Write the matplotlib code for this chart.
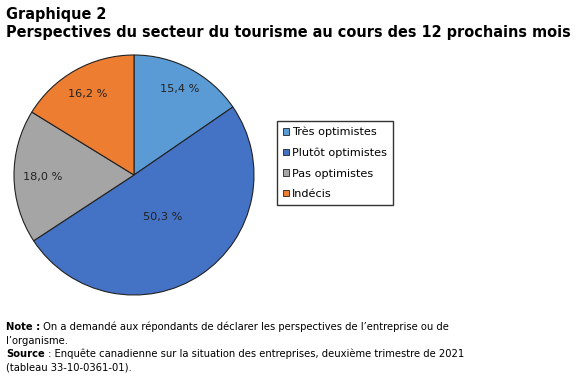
import matplotlib
matplotlib.use("Agg")
import matplotlib.pyplot as plt
import numpy as np
from matplotlib.patches import Patch

categories = ["Très optimistes", "Plutôt optimistes", "Pas optimistes", "Indécis"]
values = [15.4, 50.3, 18.0, 16.2]
value_labels = ["15,4 %", "50,3 %", "18,0 %", "16,2 %"]
colors = ["#5B9BD5", "#4472C4", "#A5A5A5", "#ED7D31"]
label_radius = [0.81, 0.42, 0.76, 0.78]

W, H = 584, 378
fig = plt.figure(figsize=(W / 100, H / 100), dpi=100)

cx, cy, r = 134, 175, 120
ax = fig.add_axes([(cx - r) / W, (H - cy - r) / H, 2 * r / W, 2 * r / H])
wedges, _ = ax.pie(values, colors=colors, startangle=90, counterclock=False,
                   wedgeprops=dict(edgecolor="#222222", linewidth=0.8), radius=1)
ax.set_xlim(-1, 1)
ax.set_ylim(-1, 1)
ax.set_aspect("equal")

start = 90.0
for v, lab, rr in zip(values, value_labels, label_radius):
    ang = start - v * 3.6 / 2
    start -= v * 3.6
    a = np.deg2rad(ang)
    ax.text(rr * np.cos(a), rr * np.sin(a), lab, ha="center", va="center",
            fontsize=8.1, color="#222222")

handles = [Patch(facecolor=c, edgecolor="#222222", linewidth=0.6) for c in colors]
leg = fig.legend(handles, categories, loc="upper left",
                 bbox_to_anchor=(277 / W, 1 - 121 / H), fontsize=8.1,
                 frameon=True, fancybox=False, edgecolor="black",
                 handlelength=0.55, handleheight=0.55, handletextpad=0.3,
                 labelspacing=0.93, borderpad=0.5, borderaxespad=0)
leg.get_frame().set_linewidth(1.0)

fig.text(6 / W, 1 - 14 / H, "Graphique 2", fontsize=10.45, fontweight="bold",
         va="center", ha="left")
fig.text(6 / W, 1 - 33 / H, "Perspectives du secteur du tourisme au cours des 12 prochains mois",
         fontsize=10.45, fontweight="bold", va="center", ha="left")

notes = [
    (327, [("Note :", "bold"), (" On a demandé aux répondants de déclarer les perspectives de l’entreprise ou de", "normal")]),
    (341, [("l’organisme.", "normal")]),
    (354, [("Source", "bold"), (" : Enquête canadienne sur la situation des entreprises, deuxième trimestre de 2021", "normal")]),
    (368, [("(tableau 33-10-0361-01).", "normal")]),
]
fig.canvas.draw()
renderer = fig.canvas.get_renderer()
for y, parts in notes:
    x = 6
    for txt, wt in parts:
        t = fig.text(x / W, 1 - y / H, txt, fontsize=7.2, fontweight=wt,
                     va="center", ha="left")
        bb = t.get_window_extent(renderer=renderer)
        x += bb.width

fig.savefig("out.png", dpi=100)
